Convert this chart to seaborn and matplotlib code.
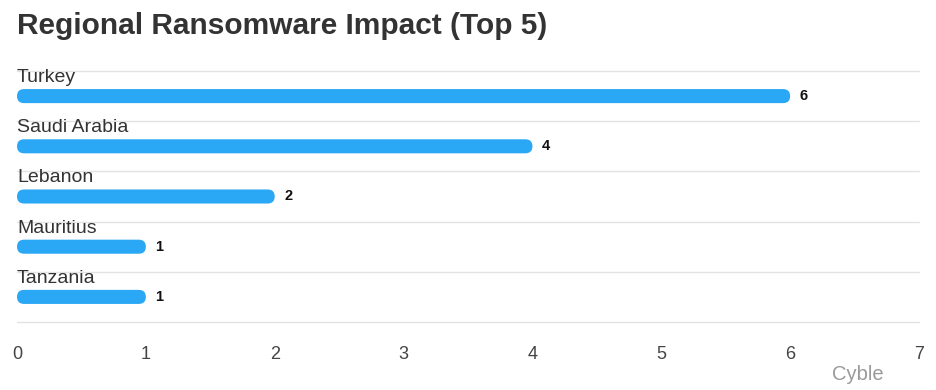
import matplotlib
matplotlib.use("Agg")
import matplotlib.pyplot as plt
from matplotlib.patches import FancyBboxPatch
import seaborn as sns
import pandas as pd

countries = ["Turkey", "Saudi Arabia", "Lebanon", "Mauritius", "Tanzania"]
counts = [6, 4, 2, 1, 1]
x_ticks = [0, 1, 2, 3, 4, 5, 6, 7]
title = "Regional Ransomware Impact (Top 5)"
source = "Cyble"

bar_color = "#2AA7F5"
grid_color = "#E3E3E3"

sns.set_theme(style="white")
plt.rcParams["font.family"] = ["Liberation Sans", "DejaVu Sans"]

df = pd.DataFrame({"country": countries, "count": counts})

W, H = 936, 390
fig = plt.figure(figsize=(W / 100, H / 100), dpi=100)
left, right, top, bottom = 17, 919, 71, 322
ax = fig.add_axes([left / W, 1 - bottom / H, (right - left) / W, (bottom - top) / H])

bar_h = 0.28
sns.barplot(data=df, x="count", y="country", orient="h", color=bar_color,
            width=bar_h, ax=ax, saturation=1)

ax.set_xlim(0, 7)
ax.set_ylim(4.5, -0.5)

# rounded bars
px_per_x = (right - left) / 7
px_per_y = (bottom - top) / 5
aspect = px_per_x / px_per_y
for p in list(ax.patches):
    x0, y0 = p.get_x(), p.get_y()
    w, h = p.get_width(), p.get_height()
    p.set_visible(False)
    r = (h / 2) / aspect
    fb = FancyBboxPatch((x0, y0), w, h,
                        boxstyle=f"round,pad=0,rounding_size={r}",
                        mutation_aspect=aspect,
                        facecolor=bar_color, edgecolor="none", zorder=3)
    ax.add_patch(fb)

for i in range(6):
    ax.axhline(i - 0.5, color=grid_color, lw=1.0, zorder=1, clip_on=False)

for i, (c, v) in enumerate(zip(countries, counts)):
    ax.text(0, i - 0.37, c, ha="left", va="center", fontsize=14, color="#333333",
            zorder=4)
    ax.text(v + 0.075, i, str(v), ha="left", va="center", fontsize=10.5,
            fontweight="bold", color="#111111")

ax.set_yticks([])
ax.set_ylabel("")
ax.set_xlabel("")
ax.set_xticks(x_ticks)
ax.set_xticklabels([str(t) for t in x_ticks])
ax.tick_params(axis="x", length=0, pad=17, labelsize=13, labelcolor="#444444")
for s in ax.spines.values():
    s.set_visible(False)

fig.text(17 / W, 1 - 26 / H, title, ha="left", va="center", fontsize=21.5,
         fontweight="bold", color="#333333")
fig.text(884 / W, 1 - 375 / H, source, ha="right", va="center", fontsize=14.5,
         color="#9A9A9A")

fig.savefig("out.png", dpi=100)
